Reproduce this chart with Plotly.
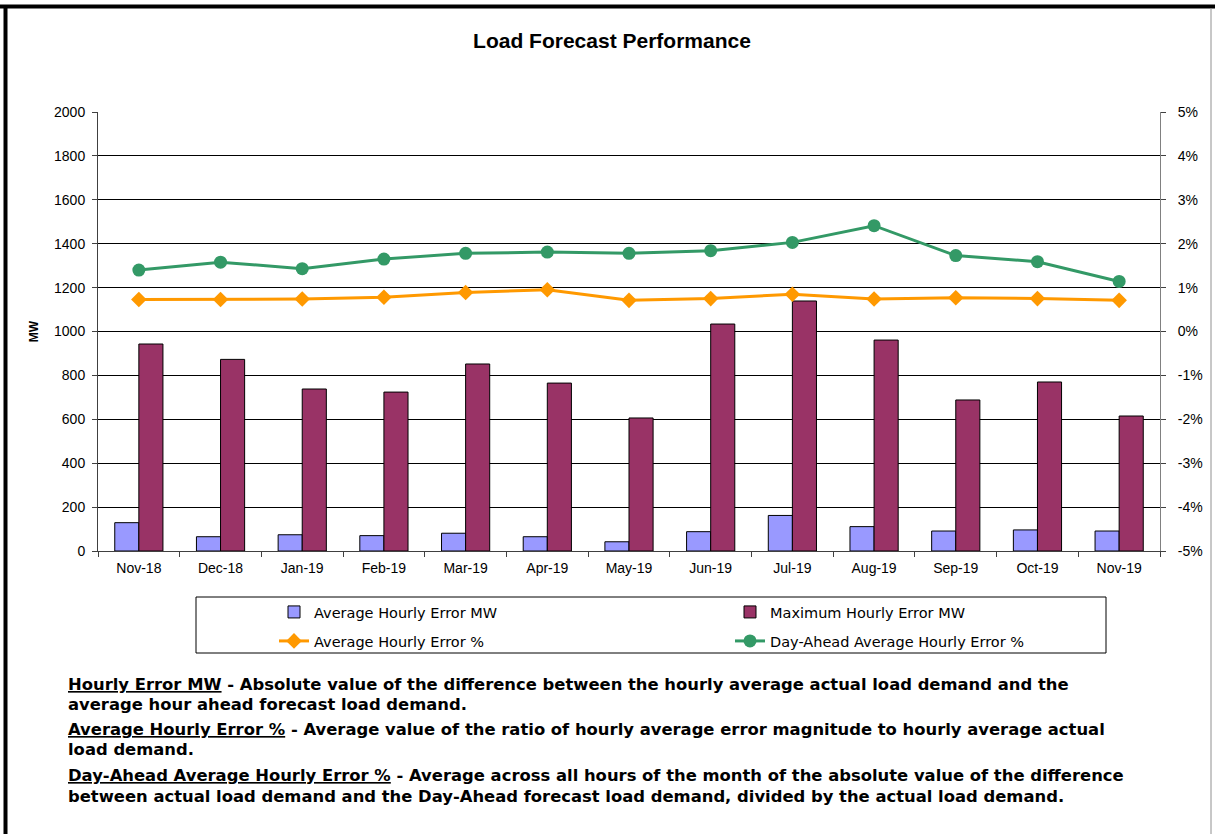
import plotly.graph_objects as go

# ---------------- data ----------------
months = ["Nov-18", "Dec-18", "Jan-19", "Feb-19", "Mar-19", "Apr-19", "May-19",
          "Jun-19", "Jul-19", "Aug-19", "Sep-19", "Oct-19", "Nov-19"]
avg_hourly_error_mw = [129, 65, 74, 70, 81, 65, 42, 88, 162, 111, 91, 96, 91]
max_hourly_error_mw = [943, 873, 738, 724, 852, 765, 606, 1034, 1139, 961, 688, 770, 615]
avg_hourly_error_pct = [0.73, 0.73, 0.74, 0.78, 0.89, 0.95, 0.71, 0.75, 0.85, 0.74, 0.77, 0.75, 0.71]
day_ahead_error_pct = [1.40, 1.58, 1.43, 1.65, 1.78, 1.81, 1.78, 1.84, 2.03, 2.41, 1.73, 1.59, 1.14]

left_ticks = [0, 200, 400, 600, 800, 1000, 1200, 1400, 1600, 1800, 2000]
right_ticks = [-5, -4, -3, -2, -1, 0, 1, 2, 3, 4, 5]
right_tick_labels = [f"{v}%" for v in right_ticks]

title_text = "Load Forecast Performance"
desc_lines = [
    "<u>Hourly Error MW</u> - Absolute value of the difference between the hourly average actual load demand and the",
    "average hour ahead forecast load demand.",
    "<u>Average Hourly Error %</u> - Average value of the ratio of hourly average error magnitude to hourly average actual",
    "load demand.",
    "<u>Day-Ahead Average Hourly Error %</u> - Average across all hours of the month of the absolute value of the difference",
    "between actual load demand and the Day-Ahead forecast load demand, divided by the actual load demand.",
]

# ---------------- layout geometry (pixels) ----------------
W, H = 1215, 834
PL, PR, PT, PB = 98, 1160, 112, 551  # plot area


def px2x(px):
    return (px - PL) / (PR - PL)


def py2y(py):
    return (PB - py) / (PB - PT)


FONT = "Liberation Sans, Arial, sans-serif"
WIDE = "DejaVu Sans, Verdana, sans-serif"

fig = go.Figure()
fig.add_trace(go.Bar(
    x=months, y=avg_hourly_error_mw, name="Average Hourly Error MW",
    marker=dict(color="#9999FF", line=dict(color="black", width=1)),
    legend="legend", showlegend=True,
))
fig.add_trace(go.Bar(
    x=months, y=max_hourly_error_mw, name="Maximum Hourly Error MW",
    marker=dict(color="#993366", line=dict(color="black", width=1)),
    legend="legend2", showlegend=True,
))
fig.add_trace(go.Scatter(
    x=months, y=avg_hourly_error_pct, name="Average Hourly Error %", yaxis="y2",
    mode="lines+markers", line=dict(color="#FF9900", width=3),
    marker=dict(symbol="diamond", size=12, color="#FF9900"),
    legend="legend3", showlegend=True,
))
fig.add_trace(go.Scatter(
    x=months, y=day_ahead_error_pct, name="Day-Ahead Average Hourly Error %", yaxis="y2",
    mode="lines+markers", line=dict(color="#339966", width=3),
    marker=dict(symbol="circle", size=13, color="#339966"),
    legend="legend4", showlegend=True,
))

shapes = [
    # legend box
    dict(type="rect", xref="paper", yref="paper",
         x0=px2x(196), x1=px2x(1106), y0=py2y(653), y1=py2y(597),
         line=dict(color="black", width=1), fillcolor="rgba(0,0,0,0)"),
    # outer frame: thick top and left, thin right
    dict(type="line", xref="paper", yref="paper",
         x0=px2x(0), x1=px2x(W), y0=py2y(6.5), y1=py2y(6.5),
         line=dict(color="black", width=4)),
    dict(type="line", xref="paper", yref="paper",
         x0=px2x(5.5), x1=px2x(5.5), y0=py2y(5), y1=py2y(H),
         line=dict(color="black", width=4)),
    dict(type="line", xref="paper", yref="paper",
         x0=px2x(1211), x1=px2x(1211), y0=py2y(8), y1=py2y(H),
         line=dict(color="#909090", width=1)),
]

annotations = []
desc_y = [684, 704, 729, 749, 775, 796]
for txt, yy in zip(desc_lines, desc_y):
    annotations.append(dict(
        text="<b>" + txt + "</b>", xref="paper", yref="paper",
        x=px2x(66), y=py2y(yy), xanchor="left", yanchor="middle",
        showarrow=False, font=dict(family=WIDE, size=16.4, color="black"),
    ))


def legend_at(left_px, center_py):
    return dict(orientation="h", x=px2x(left_px), y=py2y(center_py),
                xanchor="left", yanchor="middle", bgcolor="rgba(0,0,0,0)",
                borderwidth=0, font=dict(family=WIDE, size=14.5, color="black"))


fig.update_layout(
    width=W, height=H, showlegend=True,
    margin=dict(l=PL, r=W - PR, t=PT, b=H - PB, pad=0),
    paper_bgcolor="white", plot_bgcolor="white",
    font=dict(family=FONT, color="black", size=14),
    title=dict(text="<b>" + title_text + "</b>", x=612 / W, xanchor="center",
               xref="container", y=1 - 41 / H, yanchor="middle",
               font=dict(family=FONT, size=21, color="black")),
    barmode="group", bargap=0.41, bargroupgap=0,
    xaxis=dict(
        type="category", range=[-0.5, len(months) - 0.5],
        tickson="boundaries", ticks="outside", ticklen=5,
        tickcolor="#404040", showline=True, linecolor="#404040", linewidth=1,
        showgrid=False, tickfont=dict(size=14), ticklabelstandoff=4,
    ),
    yaxis=dict(
        range=[0, 2000], tickvals=left_ticks, ticks="outside", ticklen=5,
        tickcolor="#404040", showline=True, linecolor="#404040", linewidth=1,
        showgrid=True, gridcolor="black", gridwidth=1, zeroline=False,
        tickfont=dict(size=14), ticklabelstandoff=4,
        title=dict(text="<b>MW</b>", font=dict(size=12), standoff=12),
    ),
    yaxis2=dict(
        range=[-5, 5], tickvals=right_ticks, ticktext=right_tick_labels,
        overlaying="y", side="right", ticks="outside", ticklen=5,
        tickcolor="#404040", showline=True, linecolor="#808080", linewidth=1,
        showgrid=False, zeroline=False, tickfont=dict(size=14),
        ticklabelstandoff=9,
    ),
    legend=legend_at(274, 612),
    legend2=legend_at(730, 612),
    legend3=legend_at(274, 641),
    legend4=legend_at(730, 641),
    shapes=shapes,
    annotations=annotations,
)

fig.write_html("out.html", config={"displayModeBar": False},
               post_script="document.body.style.margin='0';")
